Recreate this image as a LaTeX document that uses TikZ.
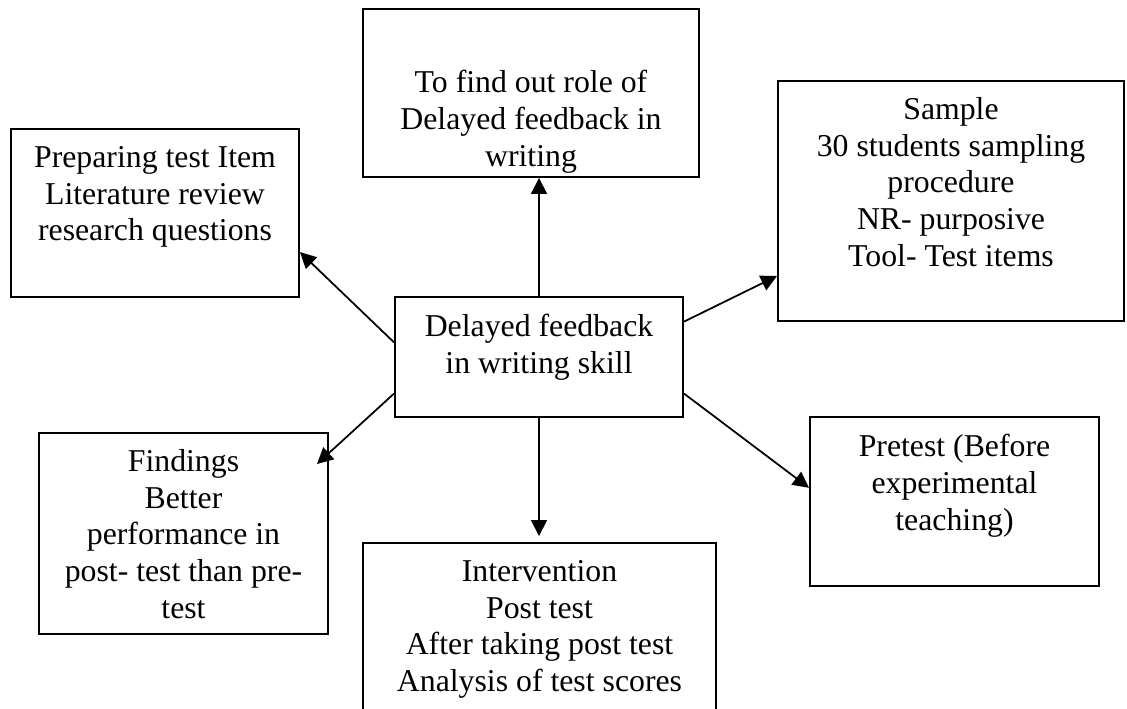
\documentclass[tikz,border=0pt]{standalone}
\usepackage{fontspec}
\setmainfont{Liberation Serif}
\usetikzlibrary{positioning,calc,arrows.meta}

\begin{document}
\begin{tikzpicture}[
    x=0.025cm, y=-0.025cm,
    box/.style={draw, line width=1.35pt, inner sep=0pt},
    txt/.style={font=\fontsize{22.6}{26.1}\selectfont, align=center, inner sep=0pt},
    arr/.style={-{Triangle[length=0.4cm, width=0.4cm]}, line width=1.25pt}
  ]
    \useasboundingbox (0,0) rectangle (1127,709);

    % boxes
    \node[box, minimum width=8.4cm,   minimum height=4.2cm]   (aim)    at (531,93)      {};
    \node[box, minimum width=7.2cm,   minimum height=3.0cm]   (core)   at (539,357)     {};
    \node[box, minimum width=7.2cm,   minimum height=4.2cm]   (prep)   at (155,213)     {};
    \node[box, minimum width=8.65cm,  minimum height=6.0cm]   (sample) at (951,201)     {};
    \node[box, minimum width=7.225cm, minimum height=4.225cm] (pre)    at (954.5,501.5) {};
    \node[box, minimum width=7.225cm, minimum height=5.025cm] (find)   at (183.5,533.5) {};
    \node[box, minimum width=8.825cm, minimum height=4.925cm] (inter)  at (539.5,641.5) {};

    % texts
    \node[txt, below=1.55cm of aim.north]     (aimtxt)    {To find out role of\\Delayed feedback in\\writing};
    \node[txt, below=0.45cm of core.north]    (coretxt)   {Delayed feedback\\in writing skill};
    \node[txt, below=0.45cm of prep.north]    (preptxt)   {Preparing test Item\\Literature review\\research questions};
    \node[txt, below=0.43cm of sample.north]  (sampletxt) {Sample\\30 students sampling\\procedure\\NR- purposive\\Tool- Test items};
    \node[txt, below=0.45cm of pre.north]     (pretxt)    {Pretest (Before\\experimental\\teaching)};
    \node[txt, below=0.43cm of find.north]    (findtxt)   {Findings\\Better\\performance in\\post- test than pre-\\test};
    \node[txt, below=0.45cm of inter.north]   (intertxt)  {Intervention\\Post test\\After taking post test\\Analysis of test scores};

    % arrows
    \draw[arr] (core.north) -- (core.north |- aim.south);
    \draw[arr] ($(core.north west)!0.38!(core.south west)$) -- ($(prep.north east)!0.73!(prep.south east)$);
    \draw[arr] ($(core.north west)!0.8!(core.south west)$) -- ($(find.north east)+(-12,32)$);
    \draw[arr] ($(core.north east)!0.21!(core.south east)$) -- ($(sample.north west)!0.81!(sample.south west)$);
    \draw[arr] ($(core.north east)!0.8!(core.south east)$) -- ($(pre.north west)!0.42!(pre.south west)$);
    \draw[arr] (core.south) -- ($(core.south |- inter.north)+(0,-6)$);
  \end{tikzpicture}
\end{document}
